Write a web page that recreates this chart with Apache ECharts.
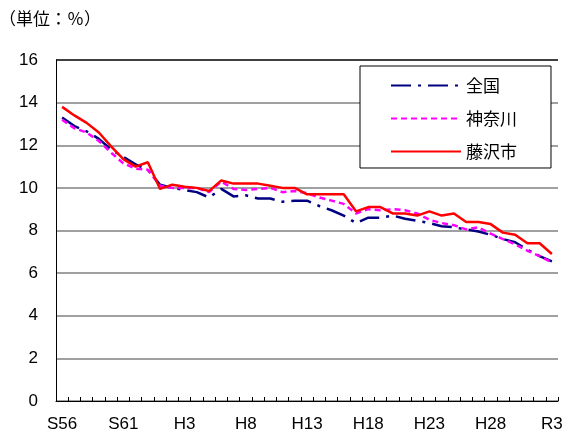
<!DOCTYPE html>
<html>
<head>
<meta charset="utf-8">
<script src="https://cdn.jsdelivr.net/npm/echarts@6/dist/echarts.min.js"></script>
<style>
  html, body { margin: 0; padding: 0; background: #fff; }
  #main { width: 571px; height: 437px; }
</style>
</head>
<body>
<div id="main"></div>
<script>
// 年度 S56〜R3
const years = [
  'S56', 'S57', 'S58', 'S59', 'S60', 'S61', 'S62', 'S63',
  'H1', 'H2', 'H3', 'H4', 'H5', 'H6', 'H7', 'H8', 'H9', 'H10', 'H11', 'H12',
  'H13', 'H14', 'H15', 'H16', 'H17', 'H18', 'H19', 'H20', 'H21', 'H22',
  'H23', 'H24', 'H25', 'H26', 'H27', 'H28', 'H29', 'H30', 'R1', 'R2', 'R3'
]
const zenkoku = [
  13.3, 12.9, 12.65, 12.3, 11.8, 11.45, 11.1, 10.85, 10.15, 10.0,
  9.9, 9.8, 9.55, 9.95, 9.6, 9.65, 9.5, 9.5, 9.35, 9.4,
  9.4, 9.15, 8.95, 8.7, 8.35, 8.6, 8.6, 8.7, 8.55, 8.45,
  8.35, 8.2, 8.15, 8.05, 7.95, 7.8, 7.6, 7.45, 7.1, 6.8, 6.55
]
const kanagawa = [
  13.2, 12.8, 12.6, 12.2, 11.65, 11.15, 10.9, 10.85, 10.1, 10.0,
  10.0, 10.0, 9.8, 10.3, 9.95, 9.9, 9.95, 10.0, 9.8, 9.85,
  9.75, 9.55, 9.4, 9.25, 8.8, 9.0, 8.95, 9.0, 8.95, 8.8,
  8.5, 8.35, 8.25, 8.05, 8.15, 7.85, 7.6, 7.35, 7.05, 6.8, 6.5
]
const fujisawa = [
  13.8, 13.4, 13.05, 12.6, 11.95, 11.35, 11.0, 11.2, 9.95, 10.15,
  10.05, 10.0, 9.85, 10.35, 10.2, 10.2, 10.2, 10.1, 10.0, 10.0,
  9.7, 9.7, 9.7, 9.7, 8.9, 9.1, 9.1, 8.8, 8.8, 8.7,
  8.9, 8.7, 8.8, 8.4, 8.4, 8.3, 7.9, 7.8, 7.4, 7.4, 6.9
]

const labelFont = 'Liberation Sans, Arial, sans-serif'
const jpFont = '"Noto Sans CJK JP", sans-serif'

const option = {
  animation: false,
  backgroundColor: '#fff',
  graphic: [
    {
      type: 'text',
      left: -1,
      top: 10,
      style: {
        text: '（単位：％）',
        font: '17px ' + jpFont,
        fill: '#000'
      }
    }
  ],
  legend: {
    orient: 'vertical',
    left: 360,
    top: 66,
    padding: [11, 34, 8, 30],
    itemWidth: 70,
    itemHeight: 16,
    itemGap: 16,
    backgroundColor: '#fff',
    borderColor: '#000',
    borderWidth: 1,
    borderRadius: 0,
    itemStyle: { opacity: 0 }, // 凡例の丸マーカーを消す
    textStyle: { color: '#000', fontSize: 17, fontFamily: jpFont },
    data: ['全国', '神奈川', '藤沢市']
  },
  grid: {
    left: 56,
    right: 13,
    top: 60,
    bottom: 36
  },
  xAxis: {
    type: 'category',
    boundaryGap: true,
    data: years,
    axisLine: { lineStyle: { color: '#000', width: 1 } },
    axisTick: {
      show: true,
      inside: true,
      length: 4,
      interval: 0,
      alignWithLabel: false,
      lineStyle: { color: '#000' }
    },
    axisLabel: {
      interval: 4,
      margin: 15,
      color: '#000',
      fontSize: 17,
      fontFamily: labelFont
    },
    splitLine: { show: false }
  },
  yAxis: {
    type: 'value',
    min: 0,
    max: 16,
    interval: 2,
    axisLine: { show: true, lineStyle: { color: '#000', width: 1 } },
    axisTick: { show: false },
    axisLabel: {
      margin: 18,
      color: '#000',
      fontSize: 17,
      fontFamily: labelFont
    },
    splitLine: {
      show: true,
      lineStyle: {
        color: ['#808080', '#808080', '#808080', '#808080', '#808080',
          '#808080', '#808080', '#808080', '#000'],
        width: 1.5
      }
    }
  },
  series: [
    {
      name: '全国',
      type: 'line',
      data: zenkoku,
      symbol: 'none',
      color: '#000080',
      lineStyle: { width: 2.5, type: [20, 7, 3, 7], color: '#000080' }
    },
    {
      name: '神奈川',
      type: 'line',
      data: kanagawa,
      symbol: 'none',
      color: '#ff00ff',
      lineStyle: { width: 2.5, type: [6, 4], color: '#ff00ff' }
    },
    {
      name: '藤沢市',
      type: 'line',
      data: fujisawa,
      symbol: 'none',
      color: '#ff0000',
      lineStyle: { width: 2.5, type: 'solid', color: '#ff0000' }
    }
  ]
}

const myChart = echarts.init(document.getElementById('main'))
myChart.setOption(option, true)
window.addEventListener('resize', () => {
  myChart.resize()
})
</script>
</body>
</html>
